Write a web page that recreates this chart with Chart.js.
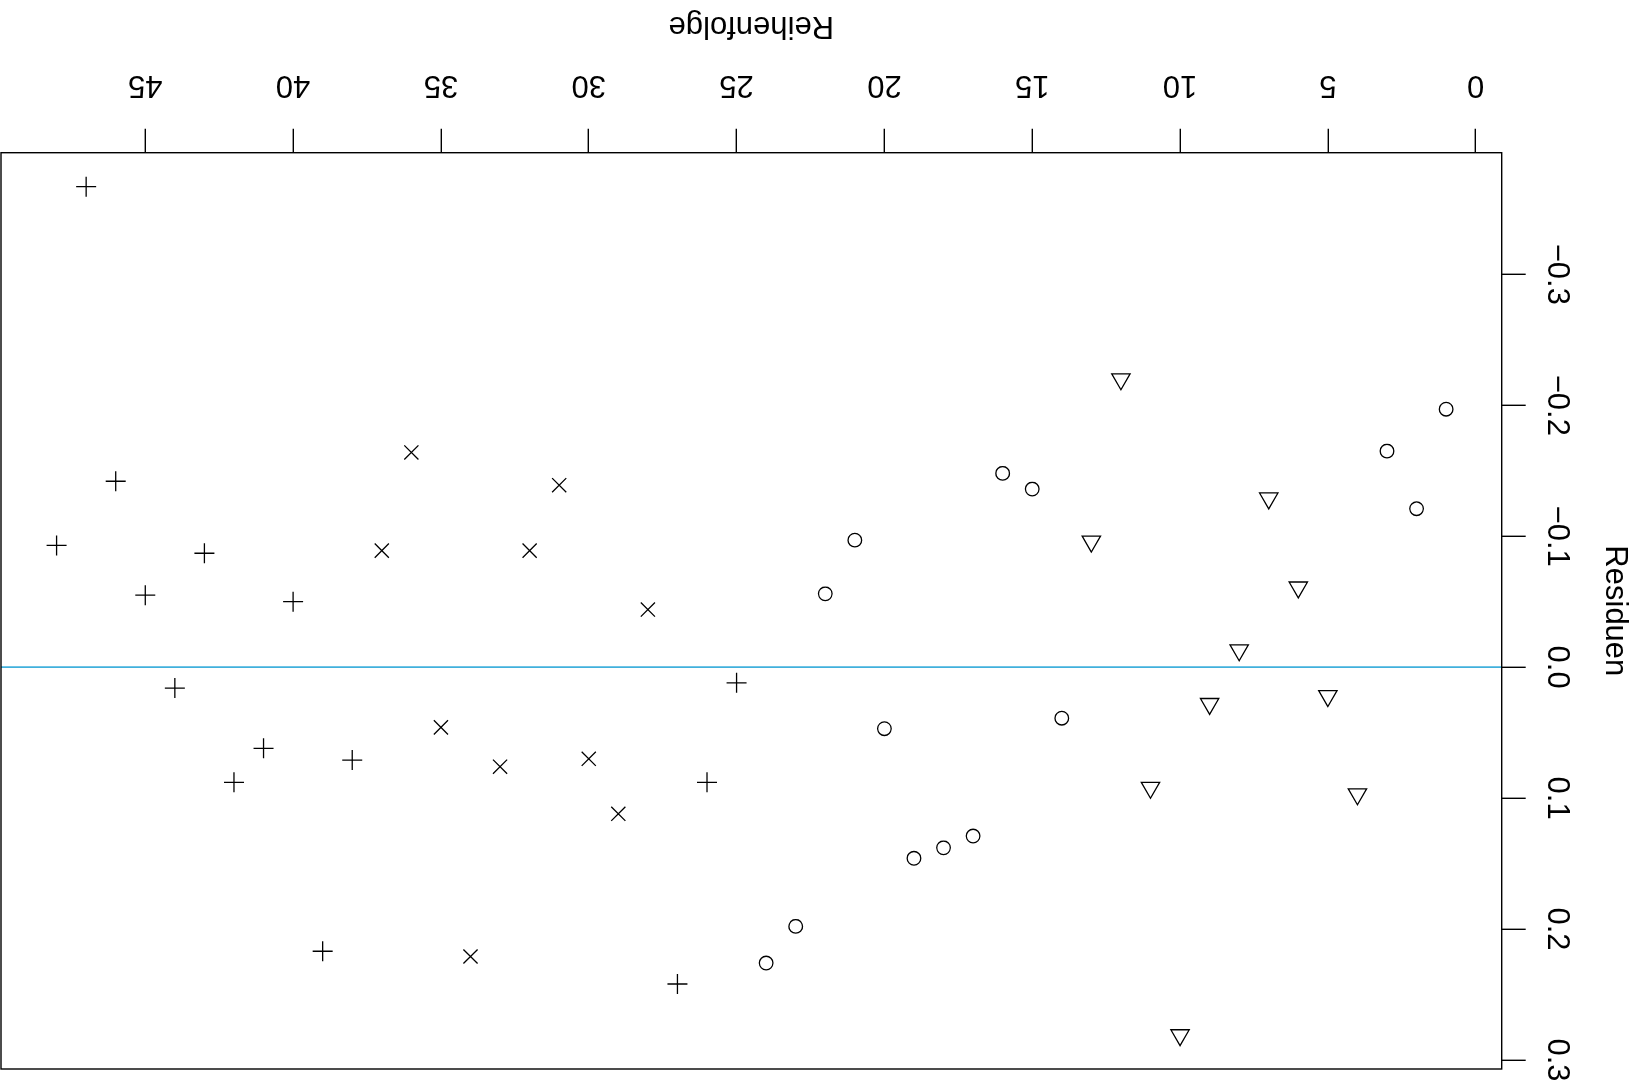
<!DOCTYPE html>
<html lang="de">
<head>
<meta charset="utf-8">
<title>Residuen nach Reihenfolge</title>
<script src="https://cdn.jsdelivr.net/npm/chart.js@4.4.1/dist/chart.umd.min.js"></script>
<style>
  html, body { margin: 0; padding: 0; background: #fff; overflow: hidden; }
  /* the whole sheet is shown turned by half a revolution */
  #blatt { width: 1638px; height: 1092px; transform: rotate(180deg); transform-origin: 50% 50%; }
  canvas { display: block; }
</style>
</head>
<body>
<div id="blatt"><canvas id="plot" width="1638" height="1092"></canvas></div>
<script>
// Beobachtungen in Reihenfolge der Messung
const reihenfolge = [1, 2, 3, 4, 5, 6, 7, 8, 9, 10, 11, 12, 13, 14, 15, 16,
                     17, 18, 19, 20, 21, 22, 23, 24, 25, 26, 27, 28, 29, 30, 31, 32,
                     33, 34, 35, 36, 37, 38, 39, 40, 41, 42, 43, 44, 45, 46, 47, 48];
const residuen = [-0.197, -0.121, -0.165, 0.097, 0.022, -0.061, -0.129, -0.013,
                   0.028, 0.281, 0.092, -0.220, -0.096, 0.039, -0.136, -0.148,
                   0.129, 0.138, 0.146, 0.047, -0.097, -0.056, 0.198, 0.226,
                   0.012, 0.088, 0.242, -0.044, 0.112, 0.070, -0.139, -0.089,
                   0.076, 0.221, 0.046, -0.164, -0.089, 0.071, 0.217, -0.050,
                   0.062, 0.088, -0.087, 0.016, -0.055, -0.142, -0.367, -0.093];
const gruppe = [1, 1, 1, 2, 2, 2, 2, 2, 2, 2, 2, 2, 2, 1, 1, 1,
                1, 1, 1, 1, 1, 1, 1, 1, 3, 3, 3, 4, 4, 4, 4, 4,
                4, 4, 4, 4, 4, 3, 3, 3, 3, 3, 3, 3, 3, 3, 3, 3];

const xTicks = [0, 5, 10, 15, 20, 25, 30, 35, 40, 45];
const xTickLabels = ['0', '5', '10', '15', '20', '25', '30', '35', '40', '45'];
const yTicks = [-0.3, -0.2, -0.1, 0.0, 0.1, 0.2, 0.3];
const yTickLabels = ['\u22120.3', '\u22120.2', '\u22120.1', '0.0', '0.1', '0.2', '0.3'];

const xTitel = 'Reihenfolge';
const yTitel = 'Residuen';

// Plotsymbole je Gruppe: Kreis, Dreieck, Plus, Kreuz
const symbole = {
  1: { pointStyle: 'circle',   radius: 6.8 },
  2: { pointStyle: 'triangle', radius: 10.6 },
  3: { pointStyle: 'cross',    radius: 10 },
  4: { pointStyle: 'crossRot', radius: 10 }
};

// Achsenbereich wie bei R: Datenbereich plus 4 % auf jeder Seite
function bereich(werte) {
  const lo = Math.min(...werte), hi = Math.max(...werte);
  const d = (hi - lo) * 0.04;
  return [lo - d, hi + d];
}
const [xMin, xMax] = bereich(reihenfolge);
const [yMin, yMax] = bereich(residuen);

const FONT = '"Liberation Sans", Arial, Helvetica, sans-serif';

const datasets = [1, 2, 3, 4].map(g => ({
  type: 'scatter',
  label: 'Gruppe ' + g,
  data: reihenfolge.map((x, i) => ({ x, y: residuen[i] })).filter((p, i) => gruppe[i] === g),
  pointStyle: symbole[g].pointStyle,
  pointRadius: symbole[g].radius,
  pointHoverRadius: symbole[g].radius,
  pointBorderColor: '#000',
  pointBackgroundColor: 'rgba(0,0,0,0)',
  pointBorderWidth: 1.3,
  showLine: false
}));

// Nulllinie
datasets.push({
  type: 'line',
  label: 'Null',
  data: [{ x: xMin, y: 0 }, { x: xMax, y: 0 }],
  borderColor: '#41b0dc',
  borderWidth: 1.6,
  pointRadius: 0,
  fill: false
});

// Rahmen um die Zeichenfläche
const rahmen = {
  id: 'rahmen',
  afterDatasetsDraw(chart) {
    const { ctx, chartArea: a } = chart;
    ctx.save();
    ctx.strokeStyle = '#000';
    ctx.lineWidth = 1.4;
    ctx.strokeRect(a.left, a.top, a.right - a.left, a.bottom - a.top);
    ctx.restore();
  }
};

// Achsenbeschriftung im Stil von R (y-Beschriftung parallel zur Achse)
const beschriftung = {
  id: 'beschriftung',
  afterDraw(chart) {
    const { ctx, chartArea: a, scales: { x, y } } = chart;
    ctx.save();
    ctx.fillStyle = '#000';
    ctx.font = '31px ' + FONT;
    ctx.textAlign = 'center';
    ctx.textBaseline = 'alphabetic';

    xTicks.forEach((v, i) => {
      ctx.fillText(xTickLabels[i], x.getPixelForValue(v), a.bottom + 76.7);
    });
    yTicks.forEach((v, i) => {
      ctx.save();
      ctx.translate(a.left - 46.6, y.getPixelForValue(v));
      ctx.rotate(-Math.PI / 2);
      ctx.fillText(yTickLabels[i], 0, 0);
      ctx.restore();
    });

    ctx.fillText(xTitel, (a.left + a.right) / 2, a.bottom + 135.5);
    ctx.save();
    ctx.translate(a.left - 104.3, (a.top + a.bottom) / 2);
    ctx.rotate(-Math.PI / 2);
    ctx.fillText(yTitel, 0, 0);
    ctx.restore();
    ctx.restore();
  }
};

new Chart(document.getElementById('plot'), {
  type: 'scatter',
  data: { datasets },
  plugins: [rahmen, beschriftung],
  options: {
    responsive: false,
    devicePixelRatio: 1,
    animation: false,
    events: [],
    layout: { autoPadding: false, padding: { top: 23, right: 1, bottom: 0, left: 0 } },
    plugins: { legend: { display: false }, tooltip: { enabled: false } },
    scales: {
      x: {
        type: 'linear',
        position: 'bottom',
        min: xMin,
        max: xMax,
        afterBuildTicks: s => { s.ticks = xTicks.map(v => ({ value: v })); },
        afterFit: s => { s.height = 152.7; },
        ticks: { display: false },
        grid: { drawOnChartArea: false, drawTicks: true, tickLength: 24, color: '#000', lineWidth: 1.4 },
        border: { display: false }
      },
      y: {
        type: 'linear',
        position: 'left',
        min: yMin,
        max: yMax,
        afterBuildTicks: s => { s.ticks = yTicks.map(v => ({ value: v })); },
        afterFit: s => { s.width = 136.3; },
        ticks: { display: false },
        grid: { drawOnChartArea: false, drawTicks: true, tickLength: 24, color: '#000', lineWidth: 1.4 },
        border: { display: false }
      }
    }
  }
});
</script>
</body>
</html>
